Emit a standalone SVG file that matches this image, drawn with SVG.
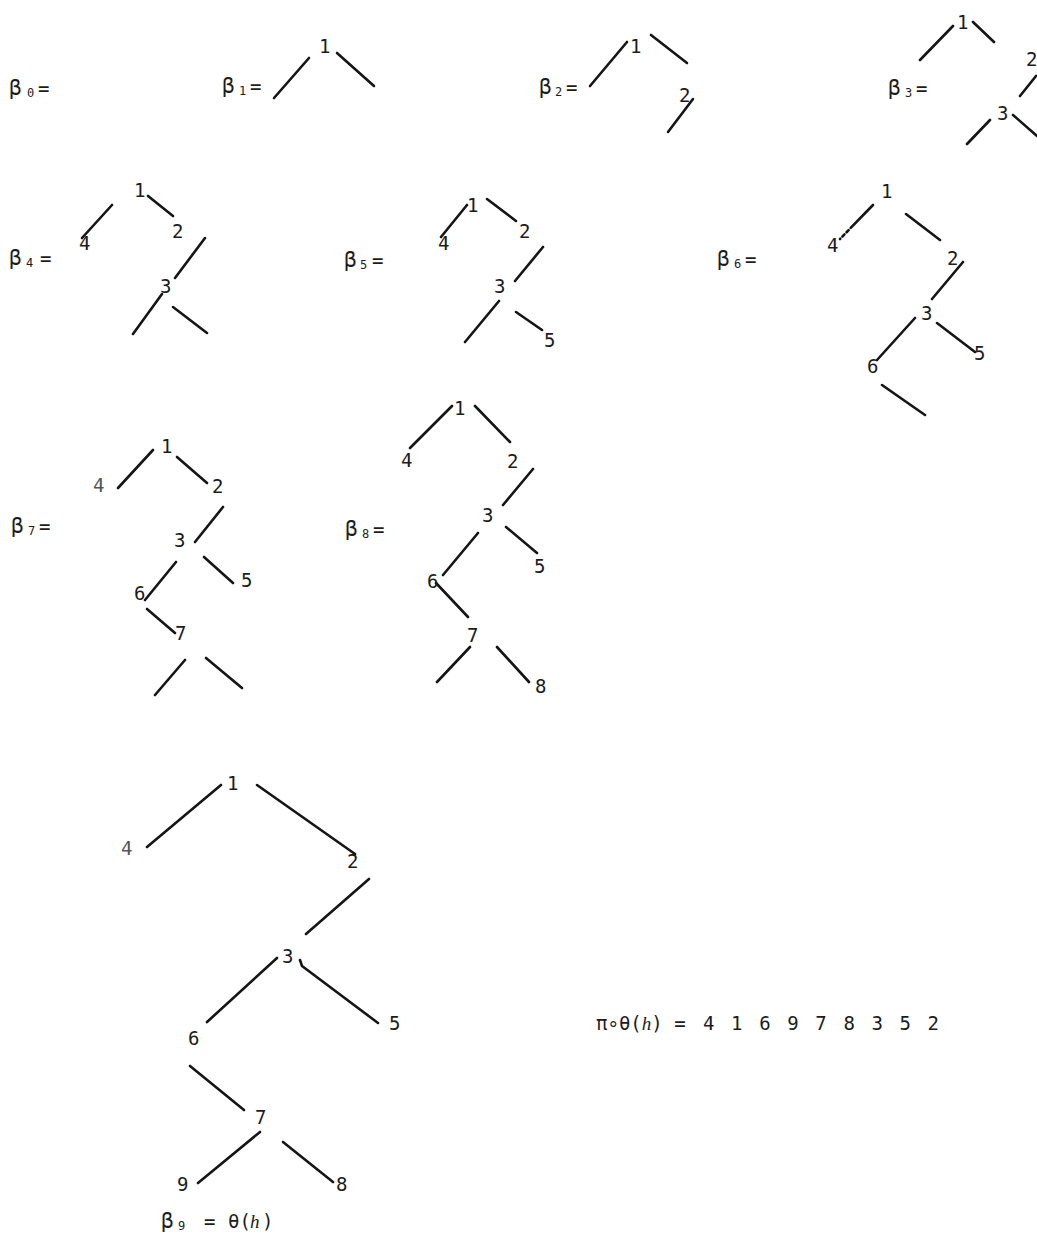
<svg xmlns="http://www.w3.org/2000/svg" width="1037" height="1237" viewBox="0 0 1037 1237">
<style>
text{font-family:"DejaVu Sans Mono","Liberation Mono",monospace;font-size:19px;fill:#1c1c1c}
.b{font-size:21px}
.s{font-size:12px}
.lt{fill:#555}
.it{font-family:"Liberation Serif",serif;font-style:italic}
.e{stroke:#151515;stroke-width:2.6;stroke-linecap:round;fill:none}
</style>
<rect width="1037" height="1237" fill="#fff"/>
<!-- labels -->
<g id="label-b0"><text x="9" y="95"><tspan class="b">β</tspan><tspan class="s" x="27" y="97">0</tspan><tspan x="38" y="95">=</tspan></text></g>
<g id="label-b1"><text x="222" y="93"><tspan class="b">β</tspan><tspan class="s" x="239" y="95">1</tspan><tspan x="250" y="93">=</tspan></text></g>
<g id="label-b2"><text x="539" y="94"><tspan class="b">β</tspan><tspan class="s" x="555" y="96">2</tspan><tspan x="566" y="94">=</tspan></text></g>
<g id="label-b3"><text x="888" y="95"><tspan class="b">β</tspan><tspan class="s" x="905" y="97">3</tspan><tspan x="916" y="95">=</tspan></text></g>
<g id="label-b4"><text x="9" y="265"><tspan class="b">β</tspan><tspan class="s" x="26" y="267">4</tspan><tspan x="40" y="265">=</tspan></text></g>
<g id="label-b5"><text x="344" y="267"><tspan class="b">β</tspan><tspan class="s" x="360" y="269">5</tspan><tspan x="372" y="267">=</tspan></text></g>
<g id="label-b6"><text x="717" y="266"><tspan class="b">β</tspan><tspan class="s" x="734" y="268">6</tspan><tspan x="745" y="266">=</tspan></text></g>
<g id="label-b7"><text x="11" y="533"><tspan class="b">β</tspan><tspan class="s" x="28" y="535">7</tspan><tspan x="39" y="533">=</tspan></text></g>
<g id="label-b8"><text x="345" y="536"><tspan class="b">β</tspan><tspan class="s" x="362" y="538">8</tspan><tspan x="373" y="536">=</tspan></text></g>
<g id="label-b9"><text x="161" y="1228"><tspan class="b">β</tspan><tspan class="s" x="178" y="1230">9</tspan><tspan x="204" y="1228">=</tspan><tspan x="228" y="1228">θ(</tspan><tspan class="it" x="250" y="1228">h</tspan><tspan x="262" y="1228">)</tspan></text></g>
<g id="formula"><text x="596" y="1030">π∘θ(<tspan class="it">h</tspan>) = <tspan x="703" style="word-spacing:5.2px">4 1 6 9 7 8 3 5 2</tspan></text></g>

<!-- connectors -->
<g id="connectors">
  <!-- b1 -->
  <path class="e" d="M274,98L309,58M337,53L374,86"/>
  <!-- b2 -->
  <path class="e" d="M590,86L627,42M651,35L687,63M693,99L668,132"/>
  <!-- b3 -->
  <path class="e" d="M920,60L953,26M973,22L994,42M1036,76L1020,96M990,120L967,144M1013,115L1037,136"/>
  <!-- b4 -->
  <path class="e" d="M148,196L173,216M112,205L82,238M205,238L175,278M162,294L133,334M173,307L207,333"/>
  <!-- b5 -->
  <path class="e" d="M467,205L441,237M487,199L516,221M543,247L515,281M499,301L465,342M516,312L542,330"/>
  <!-- b6 -->
  <path class="e" d="M873,205L840,239" stroke-dasharray="32 3 3 3 3 3"/>
  <path class="e" d="M906,214L940,240M963,262L932,299M915,318L877,360M937,323L975,352M882,385L925,415"/>
  <!-- b7 -->
  <path class="e" d="M153,450L118,488M177,457L207,483M223,507L195,542M176,562L145,600M204,557L233,583M147,609L175,633M185,660L155,695M206,658L242,688"/>
  <!-- b8 -->
  <path class="e" d="M452,406L410,448M475,406L510,442M533,469L503,505M478,533L443,575M506,527L537,553M436,583L468,617M470,647L437,682M497,647L529,682"/>
  <!-- b9 -->
  <path class="e" d="M221,785L147,847M257,785L355,854M369,879L306,934M277,958L207,1022M300,960L302,966L378,1023M190,1066L244,1110M260,1132L198,1183M283,1142L333,1182"/>
</g>

<!-- b1 nodes -->
<g id="b1-n1"><text x="319" y="53">1</text></g>
<!-- b2 nodes -->
<g id="b2-n1"><text x="630" y="53">1</text></g>
<g id="b2-n2"><text x="679" y="102">2</text></g>
<!-- b3 nodes -->
<g id="b3-n1"><text x="957" y="29">1</text></g>
<g id="b3-n2"><text x="1026" y="66">2</text></g>
<g id="b3-n3"><text x="997" y="120">3</text></g>
<!-- b4 nodes -->
<g id="b4-n1"><text x="134" y="197">1</text></g>
<g id="b4-n2"><text x="172" y="238">2</text></g>
<g id="b4-n4"><text x="79" y="250">4</text></g>
<g id="b4-n3"><text x="160" y="293">3</text></g>
<!-- b5 nodes -->
<g id="b5-n1"><text x="467" y="212">1</text></g>
<g id="b5-n2"><text x="519" y="238">2</text></g>
<g id="b5-n4"><text x="438" y="250">4</text></g>
<g id="b5-n3"><text x="494" y="293">3</text></g>
<g id="b5-n5"><text x="544" y="347">5</text></g>
<!-- b6 nodes -->
<g id="b6-n1"><text x="881" y="198">1</text></g>
<g id="b6-n4"><text x="827" y="252">4</text></g>
<g id="b6-n2"><text x="947" y="265">2</text></g>
<g id="b6-n3"><text x="921" y="320">3</text></g>
<g id="b6-n6"><text x="867" y="373">6</text></g>
<g id="b6-n5"><text x="974" y="360">5</text></g>
<!-- b7 nodes -->
<g id="b7-n1"><text x="161" y="453">1</text></g>
<g id="b7-n4"><text class="lt" x="93" y="492">4</text></g>
<g id="b7-n2"><text x="212" y="493">2</text></g>
<g id="b7-n3"><text x="174" y="547">3</text></g>
<g id="b7-n5"><text x="241" y="587">5</text></g>
<g id="b7-n6"><text x="134" y="600">6</text></g>
<g id="b7-n7"><text x="175" y="640">7</text></g>
<!-- b8 nodes -->
<g id="b8-n1"><text x="454" y="415">1</text></g>
<g id="b8-n4"><text x="401" y="467">4</text></g>
<g id="b8-n2"><text x="507" y="468">2</text></g>
<g id="b8-n3"><text x="482" y="522">3</text></g>
<g id="b8-n5"><text x="534" y="573">5</text></g>
<g id="b8-n6"><text x="427" y="588">6</text></g>
<g id="b8-n7"><text x="467" y="642">7</text></g>
<g id="b8-n8"><text x="535" y="693">8</text></g>
<!-- b9 nodes -->
<g id="b9-n1"><text x="227" y="790">1</text></g>
<g id="b9-n4"><text class="lt" x="121" y="855">4</text></g>
<g id="b9-n2"><text x="347" y="868">2</text></g>
<g id="b9-n3"><text x="282" y="963">3</text></g>
<g id="b9-n5"><text x="389" y="1030">5</text></g>
<g id="b9-n6"><text x="188" y="1045">6</text></g>
<g id="b9-n7"><text x="255" y="1124">7</text></g>
<g id="b9-n9"><text x="177" y="1191">9</text></g>
<g id="b9-n8"><text x="336" y="1191">8</text></g>
</svg>
